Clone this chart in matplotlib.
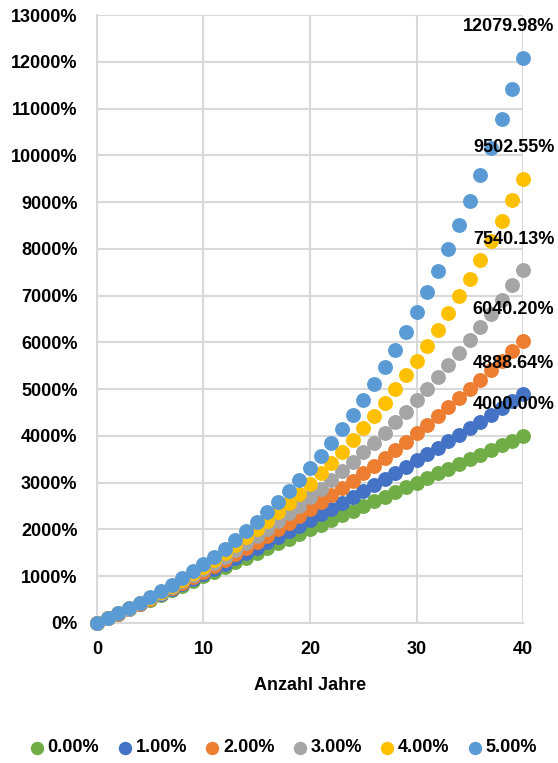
import matplotlib
matplotlib.use("Agg")
import matplotlib.pyplot as plt
from matplotlib.ticker import FuncFormatter, MultipleLocator

plt.rcParams['font.family'] = ['Liberation Sans', 'DejaVu Sans']
plt.rcParams['font.weight'] = 'bold'

years = list(range(0, 41))
series_names = ["0.00%", "1.00%", "2.00%", "3.00%", "4.00%", "5.00%"]
colors = ["#70AD47", "#4472C4", "#ED7D31", "#A5A5A5", "#FFC000", "#5B9BD5"]

r0 = [0, 100, 200, 300, 400, 500, 600, 700, 800, 900, 1000, 1100, 1200, 1300, 1400,
      1500, 1600, 1700, 1800, 1900, 2000, 2100, 2200, 2300, 2400, 2500, 2600, 2700,
      2800, 2900, 3000, 3100, 3200, 3300, 3400, 3500, 3600, 3700, 3800, 3900, 4000]
r1 = [0, 100, 201, 303.01, 406.04, 510.10, 615.20, 721.35, 828.57, 936.85, 1046.22,
      1156.68, 1268.25, 1380.93, 1494.74, 1609.69, 1725.79, 1843.04, 1961.47, 2081.09,
      2201.90, 2323.92, 2447.16, 2571.63, 2697.35, 2824.32, 2952.56, 3082.09, 3212.91,
      3345.04, 3478.49, 3613.27, 3749.41, 3886.90, 4025.77, 4166.03, 4307.69, 4450.76,
      4595.27, 4741.22, 4888.64]
r2 = [0, 100, 202, 306.04, 412.16, 520.40, 630.81, 743.43, 858.30, 975.46, 1094.97,
      1216.87, 1341.21, 1468.04, 1597.40, 1729.34, 1863.93, 2001.21, 2141.23, 2284.06,
      2429.74, 2578.33, 2729.90, 2884.50, 3042.19, 3203.03, 3367.09, 3534.43, 3705.12,
      3879.23, 4056.81, 4237.95, 4422.71, 4611.16, 4803.38, 4999.45, 5199.43, 5403.43,
      5611.50, 5823.73, 6040.20]
r3 = [0, 100, 203, 309.09, 418.36, 530.91, 646.84, 766.25, 889.23, 1015.91, 1146.39,
      1280.78, 1419.20, 1561.78, 1708.63, 1859.89, 2015.69, 2176.16, 2341.44, 2511.69,
      2687.04, 2867.65, 3053.68, 3245.29, 3442.65, 3645.93, 3855.30, 4070.96, 4293.09,
      4521.89, 4757.54, 5000.27, 5250.28, 5507.78, 5773.02, 6046.21, 6327.59, 6617.42,
      6915.94, 7223.42, 7540.13]
r4 = [0, 100, 204, 312.16, 424.65, 541.63, 663.30, 789.83, 921.42, 1058.28, 1200.61,
      1348.64, 1502.58, 1662.69, 1829.19, 2002.36, 2182.45, 2369.75, 2564.54, 2767.12,
      2977.81, 3196.92, 3424.80, 3661.79, 3908.26, 4164.59, 4431.18, 4708.42, 4996.76,
      5296.63, 5608.50, 5932.83, 6270.15, 6620.95, 6985.79, 7365.22, 7759.83, 8170.23,
      8597.03, 9040.92, 9502.55]
r5 = [0, 100, 205, 315.25, 431.01, 552.56, 680.19, 814.20, 954.91, 1102.66, 1257.79,
      1420.68, 1591.71, 1771.30, 1959.86, 2157.86, 2365.75, 2584.04, 2813.24, 3053.90,
      3306.60, 3571.93, 3850.52, 4143.05, 4450.20, 4772.71, 5111.35, 5466.91, 5840.26,
      6232.27, 6643.88, 7076.08, 7529.88, 8006.38, 8506.70, 9032.03, 9583.63, 10162.81,
      10770.95, 11409.50, 12079.98]
series = [r0, r1, r2, r3, r4, r5]
end_labels = ["4000.00%", "4888.64%", "6040.20%", "7540.13%", "9502.55%", "12079.98%"]

FS = 13

fig = plt.figure(figsize=(5.58, 7.63), dpi=100)
ax = fig.add_axes([0.1738, 0.1835, 0.9373 - 0.1738, 0.9803 - 0.1835])

handles = []
for vals, name, c in zip(series, series_names, colors):
    h = ax.scatter(years, vals, s=115, color=c, label=name, zorder=3, clip_on=False,
                   linewidths=0)
    handles.append(h)

for vals, lab in zip(series, end_labels):
    ax.annotate(lab, xy=(years[-1], vals[-1]), xytext=(22.5, 22.5),
                textcoords='offset points', ha='right', va='center',
                fontsize=FS, fontweight='bold', color='#000000', zorder=5,
                annotation_clip=False)

ax.set_xlim(0, 40)
ax.set_ylim(0, 13000)
ax.xaxis.set_major_locator(MultipleLocator(10))
ax.yaxis.set_major_locator(MultipleLocator(1000))
ax.yaxis.set_major_formatter(FuncFormatter(lambda v, p: f"{v:.0f}%"))
ax.grid(True, color="#D9D9D9", linewidth=1.5, zorder=0)
ax.set_axisbelow(True)
for side in ['top', 'right']:
    ax.spines[side].set_visible(False)
for side in ['left', 'bottom']:
    ax.spines[side].set_color("#D9D9D9")
    ax.spines[side].set_linewidth(1.5)
ax.tick_params(axis='both', length=0, labelsize=FS, colors='#000000')
ax.tick_params(axis='y', pad=14)
ax.tick_params(axis='x', pad=13)
for t in ax.get_xticklabels() + ax.get_yticklabels():
    t.set_fontweight('bold')
ax.set_xlabel("Anzahl Jahre", fontsize=FS, fontweight='bold', labelpad=14)

fig.legend(handles=handles, labels=series_names, loc='center', ncol=6,
           bbox_to_anchor=(0.508, 1 - 748 / 763), frameon=False, fontsize=FS,
           handlelength=0.8, handletextpad=0.2, columnspacing=1.0,
           markerscale=0.9, borderaxespad=0, borderpad=0)

fig.savefig("out.png", dpi=100)
